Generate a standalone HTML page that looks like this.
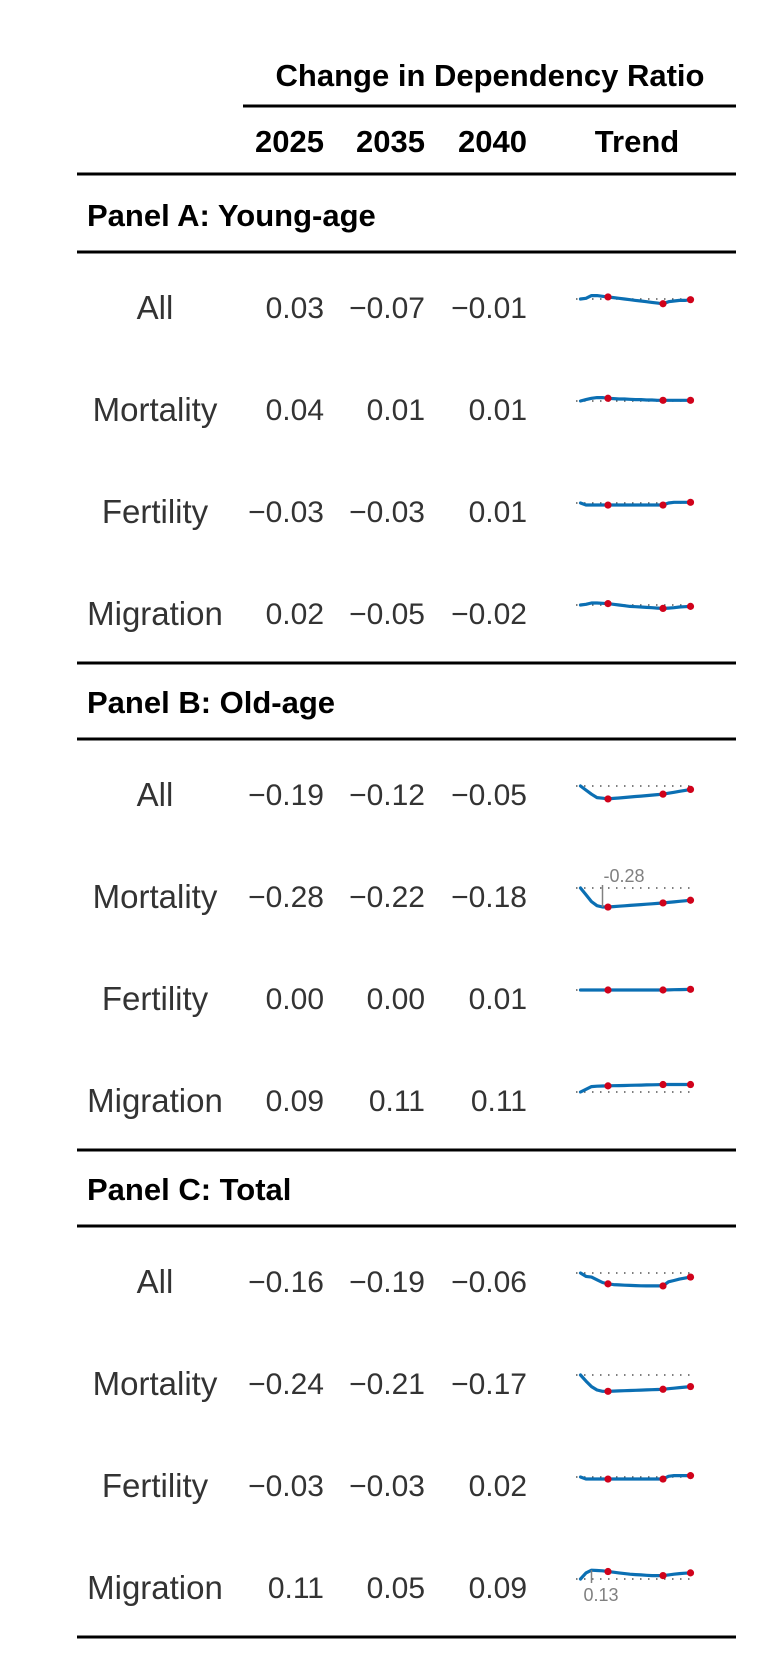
<!DOCTYPE html>
<html><head><meta charset="utf-8"><style>
html,body{margin:0;padding:0;background:#fff;}
svg{display:block;}
text{font-family:"Liberation Sans",sans-serif;}
</style></head><body>
<svg id="chart" width="758" height="1676" viewBox="0 0 758 1676" xmlns="http://www.w3.org/2000/svg">
<text x="490" y="86" font-size="31" font-weight="bold" text-anchor="middle" fill="#000">Change in Dependency Ratio</text>
<rect x="243" y="104.5" width="493" height="3" fill="#000"/>
<text x="324" y="152" font-size="31" font-weight="bold" text-anchor="end">2025</text>
<text x="425" y="152" font-size="31" font-weight="bold" text-anchor="end">2035</text>
<text x="527" y="152" font-size="31" font-weight="bold" text-anchor="end">2040</text>
<text x="637" y="152" font-size="31" font-weight="bold" text-anchor="middle">Trend</text>
<rect x="77" y="172.5" width="659" height="3" fill="#000"/>
<g id="body"></g>
</svg>
<script>
const panels = ["Panel A: Young-age", "Panel B: Old-age", "Panel C: Total"];
const rowLabels = ["All", "Mortality", "Fertility", "Migration"];
const columnValues = [
  ["0.03","−0.07","−0.01"],["0.04","0.01","0.01"],["−0.03","−0.03","0.01"],["0.02","−0.05","−0.02"],
  ["−0.19","−0.12","−0.05"],["−0.28","−0.22","−0.18"],["0.00","0.00","0.01"],["0.09","0.11","0.11"],
  ["−0.16","−0.19","−0.06"],["−0.24","−0.21","−0.17"],["−0.03","−0.03","0.02"],["0.11","0.05","0.09"]
];
const years = [2020,2021,2022,2023,2024,2025,2026,2027,2028,2029,2030,2031,2032,2033,2034,2035,2036,2037,2038,2039,2040];
const markedYears = [2025,2035,2040];
const trendYA_All = [0,0.01,0.05,0.05,0.04,0.03,0.02,0.01,0,-0.01,-0.02,-0.03,-0.04,-0.05,-0.06,-0.07,-0.04,-0.03,-0.02,-0.02,-0.01];
const trendYA_Mort = [0,0.02,0.04,0.05,0.05,0.04,0.035,0.03,0.03,0.025,0.02,0.02,0.015,0.015,0.01,0.01,0.01,0.01,0.01,0.01,0.01];
const trendYA_Fert = [0,-0.03,-0.03,-0.03,-0.03,-0.03,-0.03,-0.03,-0.03,-0.03,-0.03,-0.03,-0.03,-0.03,-0.03,-0.03,0,0.01,0.01,0.01,0.01];
const trendYA_Mig = [0,0.01,0.03,0.03,0.025,0.02,0.01,0,-0.01,-0.02,-0.025,-0.03,-0.035,-0.04,-0.045,-0.05,-0.045,-0.04,-0.03,-0.025,-0.02];
const trendOA_All = [0,-0.06,-0.12,-0.17,-0.18,-0.19,-0.183,-0.176,-0.169,-0.162,-0.155,-0.148,-0.141,-0.134,-0.127,-0.12,-0.106,-0.092,-0.078,-0.064,-0.05];
const trendOA_Mort = [0,-0.1,-0.2,-0.26,-0.28,-0.28,-0.274,-0.268,-0.262,-0.256,-0.25,-0.244,-0.238,-0.232,-0.226,-0.22,-0.212,-0.204,-0.196,-0.188,-0.18];
const trendOA_Fert = [0,0,0,0,0,0,0,0,0,0,0,0,0,0,0,0,0.002,0.004,0.006,0.008,0.01];
const trendOA_Mig = [0,0.04,0.08,0.085,0.088,0.09,0.092,0.094,0.096,0.098,0.1,0.102,0.104,0.106,0.108,0.11,0.11,0.11,0.11,0.11,0.11];
const trendT_All = [0,-0.05,-0.06,-0.1,-0.14,-0.16,-0.17,-0.175,-0.18,-0.183,-0.186,-0.188,-0.19,-0.19,-0.19,-0.19,-0.13,-0.11,-0.09,-0.075,-0.06];
const trendT_Mort = [0,-0.09,-0.17,-0.22,-0.24,-0.24,-0.237,-0.234,-0.231,-0.228,-0.225,-0.222,-0.219,-0.216,-0.213,-0.21,-0.202,-0.194,-0.186,-0.178,-0.17];
const trendT_Fert = [0,-0.03,-0.03,-0.03,-0.03,-0.03,-0.03,-0.03,-0.03,-0.03,-0.03,-0.03,-0.03,-0.03,-0.03,-0.03,0.01,0.02,0.02,0.02,0.02];
const trendT_Mig = [0,0.09,0.13,0.125,0.12,0.11,0.1,0.09,0.08,0.07,0.065,0.06,0.055,0.05,0.05,0.05,0.06,0.07,0.08,0.085,0.09];
const trends = [trendYA_All,trendYA_Mort,trendYA_Fert,trendYA_Mig,trendOA_All,trendOA_Mort,trendOA_Fert,trendOA_Mig,trendT_All,trendT_Mort,trendT_Fert,trendT_Mig];
const annotateMin = [5];
const annotateMax = [11];

const NS = "http://www.w3.org/2000/svg";
const body = document.getElementById("body");
function mk(tag, attrs, txt){const e=document.createElementNS(NS,tag);for(const k in attrs)e.setAttribute(k,attrs[k]);if(txt!==undefined)e.textContent=txt;body.appendChild(e);return e;}
const xScale = y => 608 + (y-2025)*5.5;
const yScale = (v, zero) => zero - v*68;
const fmt = v => (v<0?"-":"")+Math.abs(v).toFixed(2);
const colX = [324,425,527];
let y = 174;
panels.forEach((p, pi) => {
  const lab = mk("text",{x:87,y:y+52,"font-size":31,"font-weight":"bold",fill:"#000"},p);
  
  
  const r1 = mk("rect",{x:77,y:y+76.5,width:659,height:3,fill:"#000"});
  
  
  let c = y + 78 + 55;
  rowLabels.forEach((rl, ri) => {
    const idx = pi*4+ri;
    const t = mk("text",{x:155,y:c+12,"font-size":33,"text-anchor":"middle",fill:"#333"},rl);
    
    
    columnValues[idx].forEach((v, ci) => {
      const n = mk("text",{x:colX[ci],y:c+11,"font-size":30,"text-anchor":"end",fill:"#333"},v);
      
      
    });
    const zero = c - 8;
    const ref = mk("line",{x1:576,x2:691,y1:zero,y2:zero,stroke:"#555","stroke-width":1.6,"stroke-dasharray":"1.5 6.5"});
    
    
    const data = trends[idx];
    const pts = years.map((yr,k)=>xScale(yr).toFixed(1)+","+yScale(data[k],zero).toFixed(1)).join(" ");
    const pl = mk("polyline",{points:pts,fill:"none",stroke:"#0b6fb3","stroke-width":3.2,"stroke-linejoin":"round","stroke-linecap":"round"});
    
    
    markedYears.forEach(my => {
      const k = years.indexOf(my);
      const d = mk("circle",{cx:xScale(my),cy:yScale(data[k],zero),r:3.6,fill:"#d0021b"});
      
      
    });
    if (annotateMin.includes(idx) || annotateMax.includes(idx)) {
      const isMin = annotateMin.includes(idx);
      let k = 0;
      data.forEach((v,j)=>{ if(isMin ? v<data[k] : v>data[k]) k=j; });
      const ax = xScale(years[k]), ay = yScale(data[k],zero);
      const tick = mk("line",{x1:ax,x2:ax,y1:isMin?zero-3:ay,y2:isMin?ay:zero+4,stroke:"#808080","stroke-width":1.5});
      
      
      const at = mk("text",{x:isMin?ax+1:ax-8,y:isMin?zero-6:zero+22,"font-size":18,fill:"#808080"},fmt(data[k]));
      
      
    }
    c += 102;
  });
  y = c - 102 + 50 - 1.5;
  const r2 = mk("rect",{x:77,y:y,width:659,height:3,fill:"#000"});
  
  
  y = y + 1.5 - 2;
});
</script>
</body></html>
